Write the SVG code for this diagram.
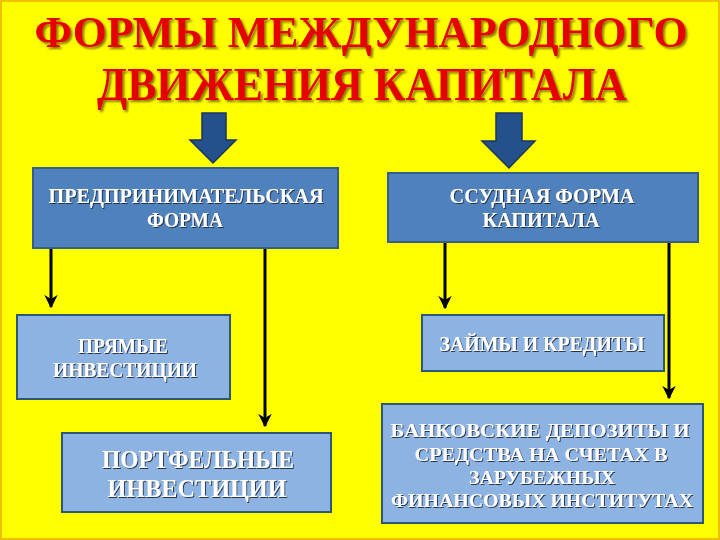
<svg xmlns="http://www.w3.org/2000/svg" width="720" height="540" viewBox="0 0 720 540">
<defs>
<style>
.title{font-family:"Liberation Serif","Times New Roman",serif;font-weight:bold;fill:#e60000;text-anchor:middle}
.box1{fill:#4f81bd;stroke:#385d8a;stroke-width:2}
.box2{fill:#8db3e2;stroke:#2f5577;stroke-width:2}
.lbl{font-family:"Liberation Serif","Times New Roman",serif;font-weight:bold;fill:#ffffff;text-anchor:middle}
.conn{stroke:#000;stroke-width:3;fill:none}
.big{fill:#24508c;stroke:#1a3560;stroke-width:1.5}
</style>
<filter id="sh" x="-5%" y="-20%" width="110%" height="140%">
<feDropShadow dx="2" dy="2" stdDeviation="0.8" flood-color="#5a3a00" flood-opacity="0.7"/>
</filter>
<filter id="sh2" x="-5%" y="-20%" width="110%" height="140%">
<feDropShadow dx="1" dy="1" stdDeviation="0.5" flood-color="#1a2a40" flood-opacity="0.9"/>
</filter>
<marker id="ah" viewBox="0 0 10 10" refX="9" refY="5" markerWidth="4.5" markerHeight="4.5" orient="auto">
<path d="M0,0 L10,5 L0,10 L3,5 Z" fill="#000"/>
</marker>
</defs>
<rect x="0" y="0" width="720" height="540" fill="#ffff00"/>
<rect x="1" y="1" width="718" height="538" fill="none" stroke="#f0c000" stroke-width="2"/>
<g id="title" filter="url(#sh)">
<text class="title" x="361" y="47" font-size="45" textLength="653" lengthAdjust="spacingAndGlyphs">ФОРМЫ МЕЖДУНАРОДНОГО</text>
<text class="title" x="362" y="100" font-size="47" textLength="530" lengthAdjust="spacingAndGlyphs">ДВИЖЕНИЯ КАПИТАЛА</text>
</g>
<g id="arrows-big">
<path class="big" d="M202,113 H226 V140 H236 L213,163 L190,140 H202 Z"/>
<path class="big" d="M496,113 H522 V141 H535 L509,168 L482,141 H496 Z"/>
</g>
<g id="connectors">
<line class="conn" x1="51" y1="248" x2="51" y2="307" marker-end="url(#ah)"/>
<line class="conn" x1="265" y1="248" x2="265" y2="426" marker-end="url(#ah)"/>
<line class="conn" x1="445" y1="242" x2="445" y2="308" marker-end="url(#ah)"/>
<line class="conn" x1="669" y1="242" x2="669" y2="398" marker-end="url(#ah)"/>
</g>
<g id="n-entrepreneurial">
<rect class="box1" x="33" y="168" width="305" height="80"/>
<g filter="url(#sh2)">
<text class="lbl" x="186" y="203" font-size="20" textLength="275" lengthAdjust="spacingAndGlyphs">ПРЕДПРИНИМАТЕЛЬСКАЯ</text>
<text class="lbl" x="185" y="227" font-size="20" textLength="76" lengthAdjust="spacingAndGlyphs">ФОРМА</text>
</g>
</g>
<g id="n-loan">
<rect class="box1" x="388" y="173" width="310" height="69"/>
<g filter="url(#sh2)">
<text class="lbl" x="542" y="203" font-size="20" textLength="185" lengthAdjust="spacingAndGlyphs">ССУДНАЯ ФОРМА</text>
<text class="lbl" x="541" y="227" font-size="20" textLength="117" lengthAdjust="spacingAndGlyphs">КАПИТАЛА</text>
</g>
</g>
<g id="n-direct">
<rect class="box2" x="17" y="315" width="213" height="84"/>
<g filter="url(#sh2)">
<text class="lbl" x="123" y="353" font-size="20" textLength="90" lengthAdjust="spacingAndGlyphs">ПРЯМЫЕ</text>
<text class="lbl" x="125" y="377" font-size="20" textLength="144" lengthAdjust="spacingAndGlyphs">ИНВЕСТИЦИИ</text>
</g>
</g>
<g id="n-loans">
<rect class="box2" x="422" y="315" width="242" height="56"/>
<g filter="url(#sh2)">
<text class="lbl" x="542" y="351" font-size="21" textLength="205" lengthAdjust="spacingAndGlyphs">ЗАЙМЫ И КРЕДИТЫ</text>
</g>
</g>
<g id="n-portfolio">
<rect class="box2" x="62" y="433" width="269" height="79"/>
<g filter="url(#sh2)">
<text class="lbl" x="198" y="468" font-size="25" textLength="192" lengthAdjust="spacingAndGlyphs">ПОРТФЕЛЬНЫЕ</text>
<text class="lbl" x="197" y="497" font-size="25" textLength="179" lengthAdjust="spacingAndGlyphs">ИНВЕСТИЦИИ</text>
</g>
</g>
<g id="n-deposits">
<rect class="box2" x="382" y="404" width="321" height="119"/>
<g filter="url(#sh2)">
<text class="lbl" x="540" y="437" font-size="18" textLength="299" lengthAdjust="spacingAndGlyphs">БАНКОВСКИЕ ДЕПОЗИТЫ И</text>
<text class="lbl" x="541" y="461" font-size="18" textLength="253" lengthAdjust="spacingAndGlyphs">СРЕДСТВА НА СЧЕТАХ В</text>
<text class="lbl" x="542" y="484" font-size="18" textLength="146" lengthAdjust="spacingAndGlyphs">ЗАРУБЕЖНЫХ</text>
<text class="lbl" x="542" y="507" font-size="18" textLength="302" lengthAdjust="spacingAndGlyphs">ФИНАНСОВЫХ ИНСТИТУТАХ</text>
</g>
</g>
</svg>
